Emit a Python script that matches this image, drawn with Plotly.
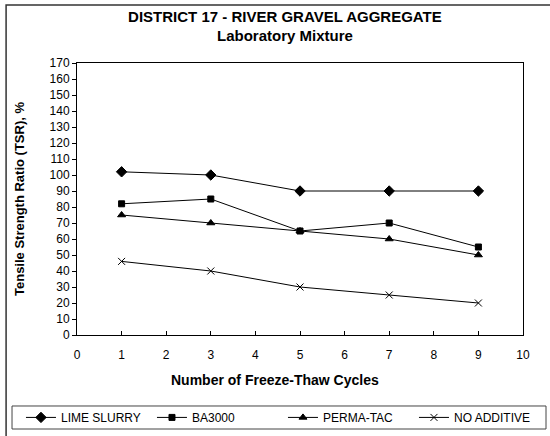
import plotly.graph_objects as go

# freeze-thaw cycles and TSR values
cycles = [1, 3, 5, 7, 9]
lime_slurry = [102, 100, 90, 90, 90]
ba3000 = [82, 85, 65, 70, 55]
perma_tac = [75, 70, 65, 60, 50]
no_additive = [46, 40, 30, 25, 20]

series = [
    ('LIME SLURRY', lime_slurry, 'diamond', 8),
    ('BA3000', ba3000, 'square', 6),
    ('PERMA-TAC', perma_tac, 'triangle-up', 7),
    ('NO ADDITIVE', no_additive, 'x-thin-open', 7),
]

fig = go.Figure()
for name, vals, sym, sz in series:
    fig.add_trace(go.Scatter(
        x=cycles, y=vals, name=name, mode='lines+markers',
        line=dict(color='black', width=1),
        marker=dict(symbol=sym, size=sz, color='black',
                    line=dict(color='black', width=1)),
    ))

# outer chart frame (left and top edges visible)
fig.add_shape(type='rect', xref='paper', yref='paper',
              x0=-0.159, x1=1.2, y0=-0.5, y1=1.213,
              line=dict(color='#333333', width=1.5))
# legend box
fig.add_shape(type='rect', xref='paper', yref='paper',
              x0=-0.1457, x1=1.0516, y0=-0.3456, y1=-0.261,
              line=dict(color='#444444', width=1))

# x axis title, sits a little left of the plot centre like the original
fig.add_annotation(text='<b>Number of Freeze-Thaw Cycles</b>', xref='paper', yref='paper',
                   x=0.444, y=-0.165, xanchor='center', yanchor='middle',
                   showarrow=False, font=dict(size=14))

fig.update_layout(
    width=550, height=436,
    margin=dict(l=77, r=27, t=63, b=101, autoexpand=False),
    paper_bgcolor='white', plot_bgcolor='white',
    font=dict(family='Liberation Sans, Arial', size=12, color='black'),
    title=dict(text='<b>DISTRICT 17 - RIVER GRAVEL AGGREGATE<br>Laboratory Mixture</b>',
               x=0.518, xanchor='center', y=0.95, yanchor='top',
               font=dict(size=15)),
    showlegend=True,
    legend=dict(orientation='h', x=-0.1256, xanchor='left', y=-0.303, yanchor='middle',
                borderwidth=0, bgcolor='rgba(0,0,0,0)', font=dict(size=12),
                entrywidth=86, tracegroupgap=0),
)

fig.update_xaxes(range=[0, 10], dtick=1, tick0=0, automargin=False,
                 showline=True, linecolor='black', linewidth=1, mirror=True,
                 ticks='inside', ticklen=4, tickcolor='black', ticklabelstandoff=9,
                 showgrid=False, zeroline=False)
fig.update_yaxes(range=[0, 170], dtick=10, tick0=0, automargin=False,
                 showline=True, linecolor='black', linewidth=1, mirror=True,
                 ticks='outside', ticklen=4, tickcolor='black',
                 showgrid=False, zeroline=False,
                 title=dict(text='<b>Tensile Strength Ratio (TSR), %</b>', font=dict(size=13), standoff=22))

# drop the default page margin so the figure sits at the window corner
fig.write_html('out.html', config={'displayModeBar': False},
               post_script="document.body.style.margin='0px';")
